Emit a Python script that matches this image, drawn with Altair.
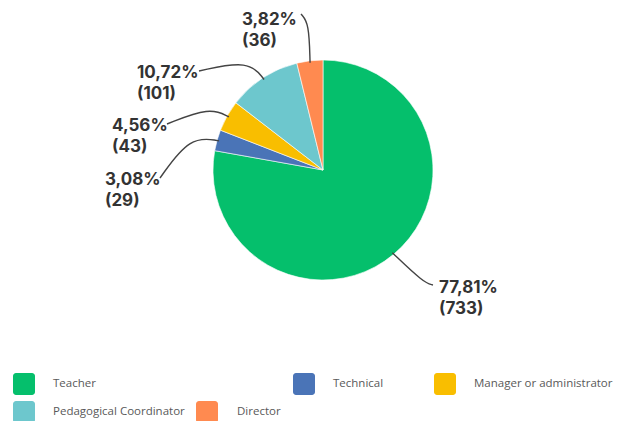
import math
import altair as alt
import pandas as pd

# ---- data ----
categories = ["Teacher", "Technical", "Manager or administrator",
              "Pedagogical Coordinator", "Director"]
counts = [733, 29, 43, 101, 36]
colors = ["#05BF6C", "#4A74B7", "#F9BE00", "#6DC7CD", "#FF8A50"]

# ---- layout (page pixels) ----
CX, CY, R = 323, 170, 110
label_pos = [(439, 293), (105, 185), (112, 131), (137, 78), (242, 25)]
line_start = [(433, 285), (160, 178), (167, 124), (199, 71), (301, 14)]
line_elbow = [(424, 283), (190, 136), (210, 107), (249, 60), (309, 23)]
legend_pos = [(13, 373), (293, 373), (434, 373), (13, 401), (196, 401)]
legend_gap = [40, 40, 40, 40, 41]
SQ = 22

W, H = 605, 413
total = sum(counts)

pie_df = pd.DataFrame({"cat": categories, "n": counts, "idx": range(len(counts))})

labels, lines = [], []
cum = 0
for i, (c, n) in enumerate(zip(categories, counts)):
    mid = 2 * math.pi * (cum + n / 2) / total
    cum += n
    pct = f"{n / total * 100:.2f}".replace(".", ",")
    lx, ly = label_pos[i]
    labels.append({"cat": c, "txt": f"{pct}%\n({n})", "px": lx, "py": ly})
    ax = CX + (R - 2) * math.sin(mid)
    ay = CY - (R - 2) * math.cos(mid)
    pts = [line_start[i], line_elbow[i], (ax, ay)]
    for k, (px, py) in enumerate(pts):
        lines.append({"cat": c, "ord": k, "px": px, "py": py})

lab_df = pd.DataFrame(labels)
line_df = pd.DataFrame(lines)
leg_df = pd.DataFrame({
    "cat": categories,
    "x0": [p[0] for p in legend_pos],
    "x1": [p[0] + SQ for p in legend_pos],
    "y0": [p[1] for p in legend_pos],
    "y1": [p[1] + SQ for p in legend_pos],
    "tx": [p[0] + g for p, g in zip(legend_pos, legend_gap)],
    "ty": [p[1] + SQ / 2 for p in legend_pos],
})

xs = alt.Scale(domain=[8, 8 + W], nice=False, zero=False)
ys = alt.Scale(domain=[8, 8 + H], nice=False, zero=False, reverse=True)
cscale = alt.Scale(domain=categories, range=colors)

pie = alt.Chart(pie_df).mark_arc(outerRadius=R, stroke="white", strokeWidth=0.6).encode(
    theta=alt.Theta("n:Q", stack=True),
    order=alt.Order("idx:Q"),
    color=alt.Color("cat:N", scale=cscale, legend=None),
    x=alt.value(CX - 8),
    y=alt.value(CY - 8),
)

leader = alt.Chart(line_df).mark_line(interpolate="basis", color="#444444", strokeWidth=1.4).encode(
    x=alt.X("px:Q", scale=xs, axis=None),
    y=alt.Y("py:Q", scale=ys, axis=None),
    detail="cat:N",
    order="ord:Q",
)

text = alt.Chart(lab_df).mark_text(
    align="left", baseline="alphabetic", lineBreak="\n", lineHeight=21,
    font="Inter", fontWeight="bold", fontSize=17, color="#333333",
).encode(
    x=alt.X("px:Q", scale=xs, axis=None),
    y=alt.Y("py:Q", scale=ys, axis=None),
    text="txt:N",
)

leg_sq = alt.Chart(leg_df).mark_rect(cornerRadius=3).encode(
    x=alt.X("x0:Q", scale=xs, axis=None),
    x2="x1:Q",
    y=alt.Y("y0:Q", scale=ys, axis=None),
    y2="y1:Q",
    color=alt.Color("cat:N", scale=cscale, legend=None),
)

leg_txt = alt.Chart(leg_df).mark_text(
    align="left", baseline="middle", font="Open Sans", fontSize=11.5, color="#595959",
).encode(
    x=alt.X("tx:Q", scale=xs, axis=None),
    y=alt.Y("ty:Q", scale=ys, axis=None),
    text="cat:N",
)

chart = alt.layer(pie, leader, text, leg_sq, leg_txt).properties(
    width=W, height=H, padding=0,
    autosize=alt.AutoSizeParams(type="none"),
).configure_view(stroke=None)

chart.save("out.html", embed_options={"renderer": "svg", "actions": False})
